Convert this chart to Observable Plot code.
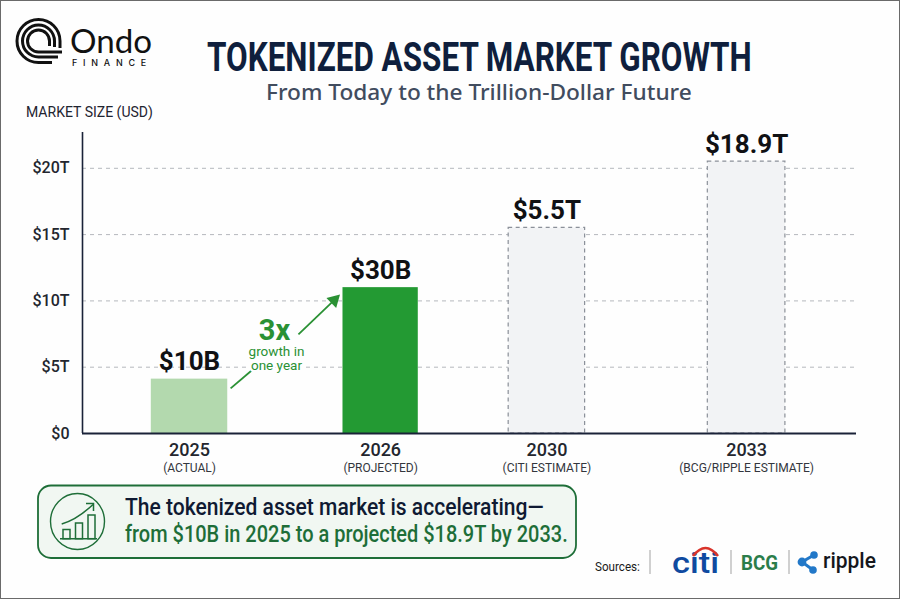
<!DOCTYPE html>
<html><head><meta charset="utf-8">
<script src="https://cdn.jsdelivr.net/npm/d3@7"></script>
<script src="https://cdn.jsdelivr.net/npm/@observablehq/plot@0.6"></script>
<style>
html,body{margin:0;padding:0;background:#fff}
#page{position:relative;width:900px;height:600px;overflow:hidden;background:#fefefe;box-sizing:border-box}
#page>svg,#plot{position:absolute;left:0;top:0;margin:0}
#frame{position:absolute;left:0;top:0;width:900px;height:599px;box-sizing:border-box;border:1.5px solid #6a6a6a;pointer-events:none}
</style></head><body>
<div id="page"><div id="plot"></div>
<svg id="over" width="900" height="600" viewBox="0 0 900 600" style="font-family:Roboto,sans-serif">
  <!-- Ondo logo -->
  <g fill="none" stroke="#111" stroke-width="3">
    <path d="M60 48 V41 A21.5 21.5 0 1 0 38.5 62.5 H52"/>
    <path d="M54.5 47 V41 A16 16 0 1 0 38.5 57 H58"/>
    <path d="M49.5 46 V41 A11 11 0 1 0 38.5 52 H62"/>
  </g>
  <text class="fit" data-w="82" x="70" y="53" font-family="Lato,'Noto Sans',sans-serif" font-size="32" font-weight="400" fill="#111">Ondo</text>
  <text class="fit" data-w="80" x="72" y="66" font-family="Inter,sans-serif" font-size="8.5" font-weight="500" letter-spacing="5.5" fill="#111">FINANCE</text>
  <!-- Titles -->
  <text class="fit" data-w="545" x="207" y="71" font-size="40" font-weight="700" fill="#0f1f3d">TOKENIZED ASSET MARKET GROWTH</text>
  <text class="fit" data-w="426" x="266" y="100" font-family="'Noto Sans',sans-serif" font-size="22.5" font-weight="500" fill="#414c5e">From Today to the Trillion-Dollar Future</text>
  <text class="fit" data-w="127" x="26" y="117" font-size="15" fill="#1f2430">MARKET SIZE (USD)</text>
  <!-- Callout -->
  <rect x="38" y="485.5" width="538" height="72.5" rx="13" fill="#f1f7f2" stroke="#1e6e38" stroke-width="1.8"/>
  <ellipse cx="77.5" cy="521.5" rx="27" ry="28" fill="none" stroke="#1e6e38" stroke-width="1.4"/>
  <g fill="none" stroke="#1e6e38" stroke-width="1.5">
    <path d="M60 538.7 H97"/>
    <rect x="63" y="529.5" width="7" height="9.2"/><rect x="75.5" y="523" width="7" height="15.7"/><rect x="88" y="515" width="7" height="23.7"/>
    <path d="M61.7 524 C72 521 84 513 93 504.5"/><path d="M86 503.5 H93.5 V511"/>
  </g>
  <text class="fit" data-w="419" x="125" y="515" font-size="23" font-weight="500" fill="#0f1a33">The tokenized asset market is accelerating—</text>
  <text class="fit" data-w="443" x="125" y="542" font-size="23" font-weight="500" fill="#1e6e38">from $10B in 2025 to a projected $18.9T by 2033.</text>
  <!-- Sources -->
  <text class="fit" data-w="45" x="595" y="571" font-size="12.5" fill="#1a1a1a">Sources:</text>
  <g stroke="#bcbcbc" stroke-width="1.4"><path d="M650 550 V574"/><path d="M731 550 V574"/><path d="M789 550 V574"/></g>
  <text class="fit" data-w="47" x="672" y="573" font-size="30" fill="#0f4aa0" font-weight="500">citi</text>
  <path d="M693 556 Q705.5 540 718 556" fill="none" stroke="#d9342b" stroke-width="2.6"/>
  <text class="fit" data-w="37" x="741" y="570" font-size="20" font-weight="700" fill="#2b7d4a">BCG</text>
  <g fill="#2278c8">
    <path d="M814 555 L802 562 L813 570" fill="none" stroke="#2278c8" stroke-width="3"/>
    <circle cx="814" cy="555" r="3.8"/><circle cx="802" cy="562" r="4.4"/><circle cx="813" cy="570" r="3.8"/>
  </g>
  <text class="fit" data-w="53" x="823" y="568" font-size="22" font-weight="500" fill="#15171c">ripple</text>
</svg>
<div id="frame"></div></div>
<script>
const years = ["2025","2026","2030","2033"];
const notes = ["(ACTUAL)","(PROJECTED)","(CITI ESTIMATE)","(BCG/RIPPLE ESTIMATE)"];
const labels = ["$10B","$30B","$5.5T","$18.9T"];
const barHeights = [4.1, 11.0, 15.5, 20.5];   // as drawn against the $T axis (the picture is not to scale)
const slots = [0, 1, 1.87, 2.915];            // unevenly spaced categories along the axis
const halfWidths = [0.2, 0.197, 0.2, 0.203];
const fills = ["#b3d9ae","#239a33","#f2f3f5","#f2f3f5"];
const strokes = ["none","none","#8b9099","#8b9099"];
const yTicks = [0,5,10,15,20];
const arrowParts = [
  {x1:0.215,y1:3.4,x2:0.325,y2:4.75},
  {x1:0.57,y1:7.47,x2:0.76,y2:10.1}
];
const arrowHead = [{x:0.757,y:10.06}];
const bigNote = [{t:"3x",x:0.445,y:7.77}];
const smallNotes = [{t:"growth in",x:0.455,y:6.2},{t:"one year",x:0.455,y:5.13}];
const rows = years.map((yr,i)=>({yr,i,note:notes[i],label:labels[i],h:barHeights[i],c:slots[i],x1:slots[i]-halfWidths[i],x2:slots[i]+halfWidths[i],fill:fills[i],stroke:strokes[i]}));
const green = "#2a9134";
const font = "Roboto,sans-serif";

const plot = Plot.plot({
  width:900,height:600,
  marginTop:132,marginBottom:167,marginLeft:82,marginRight:44,
  style:{background:"transparent",fontFamily:font},
  x:{type:"linear",domain:[-0.56,3.49],axis:null},
  y:{domain:[0,22.7],axis:null},
  marks:[
    Plot.ruleY(yTicks.filter(d=>d>0),{stroke:"#b5b8bd",strokeWidth:1,strokeDasharray:"4 4"}),
    Plot.rectY(rows.filter(d=>d.stroke==="none"),{x1:"x1",x2:"x2",y1:0,y2:"h",fill:"fill"}),
    Plot.rectY(rows.filter(d=>d.stroke!=="none"),{x1:"x1",x2:"x2",y1:0,y2:"h",fill:"fill",stroke:"stroke",strokeWidth:1.2,strokeDasharray:"4 3.5"}),
    Plot.ruleX([-0.56],{y1:0,y2:22.7,stroke:"#1a2238",strokeWidth:1.6}),
    Plot.ruleY([0],{stroke:"#1a2238",strokeWidth:1.8}),
    Plot.axisY({ticks:yTicks,tickFormat:d=>d===0?"$0":`$${d}T`,tickSize:0,tickPadding:13,fontSize:16,fontWeight:500,fill:"#23262e",label:null}),
    Plot.axisX({ticks:slots,tickFormat:d=>years[slots.indexOf(d)],tickSize:0,tickPadding:10,fontSize:18,fontWeight:500,fill:"#23262e",label:null}),
    Plot.axisX({ticks:slots,tickFormat:d=>notes[slots.indexOf(d)],tickSize:0,tickPadding:30,fontSize:12,fontWeight:400,fill:"#33363d",label:null,lineWidth:100}),
    Plot.text(rows,{x:"c",y:"h",text:"label",dy:-9,lineAnchor:"bottom",fontSize:26,fontWeight:700,fill:"#101114"}),
    Plot.link(arrowParts,{x1:"x1",y1:"y1",x2:"x2",y2:"y2",stroke:green,strokeWidth:1.8}),
    Plot.dot(arrowHead,{x:"x",y:"y",symbol:"triangle",r:5.2,rotate:46,fill:green}),
    Plot.text(smallNotes,{x:"x",y:"y",text:"t",fontSize:13.5,fontWeight:400,fill:green,stroke:"#fefefe",strokeWidth:5}),
    Plot.text(bigNote,{x:"x",y:"y",text:"t",fontSize:29,fontWeight:700,fill:green,stroke:"#fefefe",strokeWidth:5})
  ]
});
document.getElementById("plot").appendChild(plot);
document.querySelectorAll("text.fit").forEach(t=>{
  const x=+t.getAttribute("x"),y=+t.getAttribute("y"),w=+t.dataset.w,len=t.getComputedTextLength();
  t.setAttribute("transform",`translate(${x} ${y}) scale(${w/len} 1) translate(${-x} ${-y})`);
});
</script>
</body></html>
